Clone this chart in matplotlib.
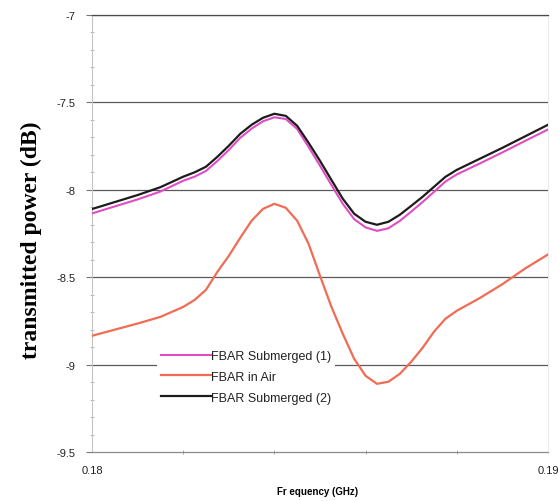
import matplotlib
matplotlib.use("Agg")
import matplotlib.pyplot as plt
import matplotlib.transforms as mtransforms
from matplotlib.ticker import MultipleLocator, FixedLocator

# Frequency sweep (GHz)
freq_ghz = [0.1800, 0.1805, 0.1810, 0.1815, 0.1820, 0.18225, 0.1825, 0.18275,
            0.1830, 0.18325, 0.1835, 0.18375, 0.1840, 0.18425, 0.1845, 0.18475,
            0.1850, 0.18525, 0.1855, 0.18575, 0.1860, 0.18625, 0.1865, 0.18675,
            0.1870, 0.18725, 0.1875, 0.18775, 0.1880, 0.1885, 0.1890, 0.1895,
            0.1900]

# Transmitted power (dB)
submerged_1 = [-8.135, -8.095, -8.055, -8.01, -7.948, -7.925, -7.892, -7.835,
               -7.772, -7.703, -7.65, -7.608, -7.585, -7.595, -7.652, -7.755,
               -7.862, -7.972, -8.08, -8.168, -8.215, -8.235, -8.22, -8.178,
               -8.125, -8.07, -8.012, -7.953, -7.912, -7.85, -7.786, -7.72,
               -7.655]
in_air = [-8.835, -8.80, -8.765, -8.727, -8.67, -8.63, -8.572, -8.469,
          -8.378, -8.275, -8.177, -8.109, -8.080, -8.103, -8.177, -8.309,
          -8.492, -8.669, -8.824, -8.967, -9.064, -9.110, -9.098, -9.053,
          -8.984, -8.904, -8.812, -8.738, -8.692, -8.62, -8.54, -8.45,
          -8.37]
submerged_2 = [-8.11, -8.07, -8.03, -7.985, -7.925, -7.90, -7.868, -7.811,
               -7.748, -7.680, -7.628, -7.588, -7.565, -7.577, -7.634, -7.731,
               -7.834, -7.943, -8.051, -8.137, -8.183, -8.200, -8.183, -8.143,
               -8.092, -8.040, -7.983, -7.926, -7.886, -7.823, -7.760, -7.694,
               -7.628]

y_ticks = [-9.5, -9, -8.5, -8, -7.5, -7]
y_tick_labels = ["-9.5", "-9", "-8.5", "-8", "-7.5", "-7"]
x_ticks = [0.18, 0.19]
x_tick_labels = ["0.18", "0.19"]

sans = ["Liberation Sans", "DejaVu Sans"]

fig = plt.figure(figsize=(5.58, 5.02), dpi=100)
ax = fig.add_axes([0.1649, 0.0976, 0.8171, 0.8705])

ax.plot(freq_ghz, submerged_1, color="#e04cc4", lw=1.5, label="FBAR Submerged (1)", zorder=3)
ax.plot(freq_ghz, in_air, color="#f06c55", lw=1.6, label="FBAR in Air", zorder=3)
ax.plot(freq_ghz, submerged_2, color="#1c1c1c", lw=1.6, label="FBAR Submerged (2)", zorder=4)

ax.set_xlim(0.18, 0.19)
ax.set_ylim(-9.5, -7)

ax.yaxis.set_major_locator(FixedLocator(y_ticks))
ax.set_yticklabels(y_tick_labels, family=sans)
ax.yaxis.set_minor_locator(MultipleLocator(0.1))
ax.xaxis.set_major_locator(FixedLocator(x_ticks))
ax.set_xticklabels(x_tick_labels, family=sans)
ax.xaxis.set_minor_locator(MultipleLocator(0.002))

# keep the right-hand frequency label inside the canvas
shift = mtransforms.ScaledTranslation(-4 / 72, 0, fig.dpi_scale_trans)
xt = ax.get_xticklabels()[1]
xt.set_transform(xt.get_transform() + shift)

for y in y_ticks[1:]:
    ax.axhline(y, color="#5a5a5a", lw=0.9, zorder=1)

ax.tick_params(axis="y", which="major", length=4, width=0.8, color="#777777",
               direction="out", pad=8, labelsize=8, labelcolor="#222222")
ax.tick_params(axis="y", which="minor", length=3, width=0.6, color="#aaaaaa",
               direction="inout")
ax.tick_params(axis="x", which="major", length=0, pad=9, labelsize=8,
               labelcolor="#222222")
ax.tick_params(axis="x", which="minor", length=3, width=0.6, color="#999999",
               direction="inout")

ax.spines["left"].set_color("#c4c4c4")
ax.spines["left"].set_linewidth(0.8)
ax.spines["bottom"].set_color("#8a8a8a")
ax.spines["bottom"].set_linewidth(0.9)
ax.spines["right"].set_color("#e6e6e6")
ax.spines["right"].set_linewidth(0.6)
ax.spines["top"].set_color("#4a4a4a")
ax.spines["top"].set_linewidth(0.9)

fig.text(31 / 558, 1 - 240 / 502, "transmitted power (dB)", rotation=90,
         ha="center", va="center", family="Liberation Serif",
         fontweight="bold", fontsize=17)
fig.text(318 / 558, 1 - 492 / 502, "Fr equency (GHz)", ha="center", va="center",
         family=sans, fontweight="bold", fontsize=7)

leg = ax.legend(loc="upper left", bbox_to_anchor=(0.143, 0.242), frameon=True,
                prop={"family": sans, "size": 9}, handlelength=4.0,
                handletextpad=0.0, labelspacing=0.7, borderpad=0.3,
                borderaxespad=0)
leg.get_frame().set_facecolor("white")
leg.get_frame().set_edgecolor("none")
leg.get_frame().set_alpha(1.0)
leg.set_zorder(2)
for t in leg.get_texts():
    t.set_color("#222222")

fig.savefig("out.png", dpi=100)
